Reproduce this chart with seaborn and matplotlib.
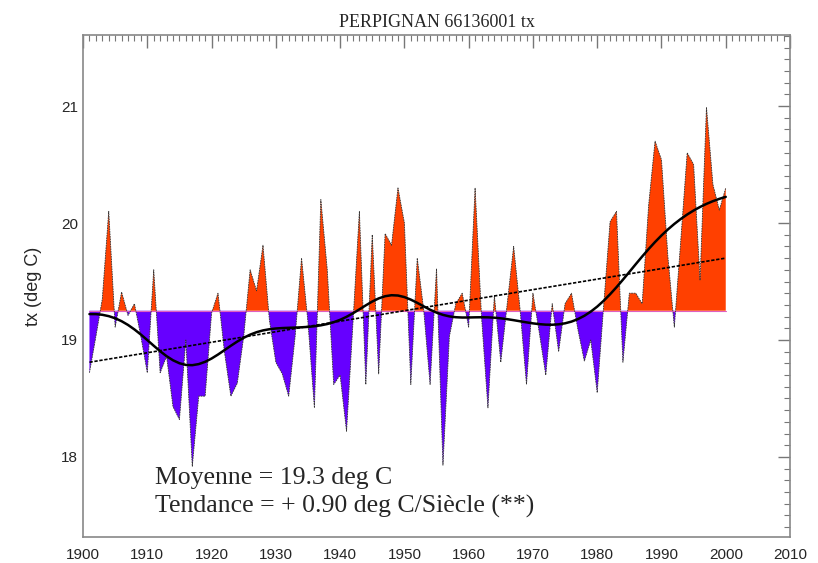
import numpy as np
import pandas as pd
import seaborn as sns
import matplotlib
matplotlib.use("Agg")
import matplotlib.pyplot as plt
from matplotlib.ticker import MultipleLocator

# Données : Perpignan, tx annuelle (deg C)
annees = list(range(1901, 2001))
tx = [
    18.72, 19.03, 19.35, 20.10, 19.11, 19.41, 19.21, 19.31, 19.03, 18.72,
    19.60, 18.72, 18.86, 18.43, 18.32, 19.00, 17.92, 18.52, 18.52, 19.23,
    19.40, 18.90, 18.52, 18.63, 19.03, 19.60, 19.42, 19.81, 19.17, 18.81,
    18.71, 18.52, 19.03, 19.70, 19.15, 18.42, 20.20, 19.60, 18.62, 18.70,
    18.22, 19.15, 20.10, 18.62, 19.90, 18.71, 19.91, 19.81, 20.30, 20.00,
    18.62, 19.70, 19.26, 18.62, 19.61, 17.93, 19.03, 19.31, 19.40, 19.11,
    20.30, 19.20, 18.42, 19.38, 18.81, 19.31, 19.80, 19.26, 18.62, 19.40,
    19.06, 18.70, 19.31, 18.90, 19.31, 19.40, 19.09, 18.82, 19.00, 18.55,
    19.29, 20.01, 20.10, 18.81, 19.40, 19.40, 19.31, 20.15, 20.70, 20.54,
    19.71, 19.11, 19.85, 20.60, 20.50, 19.51, 20.99, 20.33, 20.11, 20.30,
]
moyenne = 19.25
tendance_annees = [1901, 2000]
tendance_valeurs = [18.81, 19.70]

df = pd.DataFrame({"annee": annees, "tx": tx})

# lissage gaussien (passe-bas)
x = df["annee"].to_numpy(dtype=float)
y = df["tx"].to_numpy()
w = np.exp(-0.5 * ((x[:, None] - x[None, :]) / 5.0) ** 2)
df["lisse"] = (w @ y) / w.sum(axis=1)
df_tend = pd.DataFrame({"annee": tendance_annees, "tx": tendance_valeurs})

sns.set_theme(style="white")
plt.rcParams["font.family"] = ["Liberation Sans Narrow", "Liberation Sans", "DejaVu Sans"]

fig = plt.figure(figsize=(8.18, 5.63), dpi=100)
ax = fig.add_axes([0.1015, 0.0462, 0.8643, 0.8916])

ax.fill_between(x, moyenne, y, where=y >= moyenne, interpolate=True,
                color="#ff4000", linewidth=0)
ax.fill_between(x, moyenne, y, where=y <= moyenne, interpolate=True,
                color="#6600ff", linewidth=0)
ax.plot([1901, 2000], [moyenne, moyenne], color="#e060c0", lw=0.8)
sns.lineplot(data=df, x="annee", y="tx", ax=ax, color="#333333",
             lw=0.6, linestyle=(0, (2, 1)))
sns.lineplot(data=df_tend, x="annee", y="tx", ax=ax, color="black",
             lw=1.2, linestyle=(0, (2, 1)))
sns.lineplot(data=df, x="annee", y="lisse", ax=ax, color="black", lw=1.8)

ax.set_xlim(1900, 2010)
ax.set_ylim(17.316, 21.607)
ax.xaxis.set_major_locator(MultipleLocator(10))
ax.xaxis.set_minor_locator(MultipleLocator(1))
ax.yaxis.set_major_locator(MultipleLocator(1))
ax.yaxis.set_minor_locator(MultipleLocator(0.1))
ax.tick_params(which="both", direction="in", top=True, right=True,
               color="#777777", labelsize=11)
ax.tick_params(which="major", length=9, width=1)
ax.tick_params(which="minor", length=4, width=0.8)
ax.tick_params(axis="x", pad=8)
for s in ax.spines.values():
    s.set_color("#888888")
    s.set_linewidth(1.2)

ax.set_xlabel("")
ax.set_ylabel("tx (deg C)", fontsize=13, labelpad=14)
ax.set_title("PERPIGNAN 66136001 tx", fontsize=13,
             family=["Liberation Serif"], pad=6)

ax.text(1911.2, 17.82, "Moyenne = 19.3 deg C", fontsize=18.5,
        family=["Liberation Serif"], va="center")
ax.text(1911.2, 17.58, "Tendance = + 0.90 deg C/Siècle (**)", fontsize=18.5,
        family=["Liberation Serif"], va="center")

fig.savefig("out.png", dpi=100)
